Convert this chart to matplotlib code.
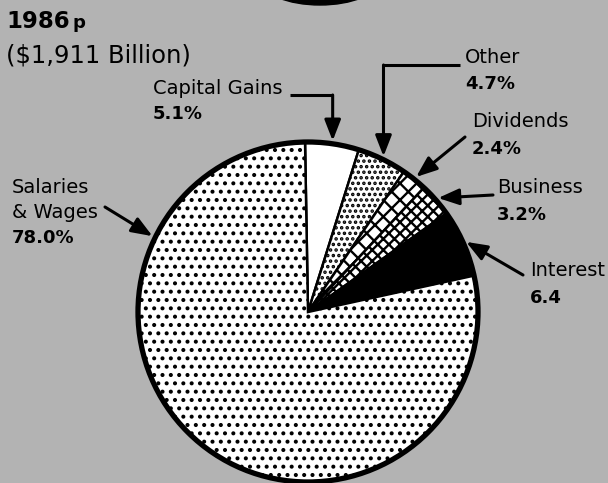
"""
1986 personal income pie chart, redrawn from the scanned figure.
Writes out.png (608x483 px).
"""
import numpy as np
import matplotlib
matplotlib.use("Agg")
import matplotlib.pyplot as plt
from matplotlib.patches import Circle, Ellipse

# ---- data ----------------------------------------------------------------
labels = ["Capital Gains", "Other", "Dividends", "Business", "Interest", "Salaries\n& Wages"]
shares = [5.1, 4.7, 2.4, 3.2, 6.4, 78.0]
share_text = ["5.1%", "4.7%", "2.4%", "3.2%", "6.4", "78.0%"]
year = "1986"
total_text = "($1,911 Billion)"

# ---- layout (pixel coords, y measured from top of the image) -------------
W, H = 608, 483
CX, CY, R = 308, 312, 170
BG = "#b3b3b3"

plt.rcParams["font.family"] = ["DejaVu Sans"]
plt.rcParams["hatch.linewidth"] = 1.7


def Y(y):
    return H - y


def main():
    fig = plt.figure(figsize=(W / 100, H / 100), dpi=100, facecolor=BG)
    ax = fig.add_axes([0, 0, 1, 1])
    ax.set_facecolor("none")

    colors = ["white", "white", "white", "white", "black", "white"]
    hatches = ["", "...", "xx", "xxx", "", ".."]
    wedges, _ = ax.pie(shares, startangle=91, counterclock=False,
                       center=(CX, Y(CY)), radius=R, colors=colors,
                       hatch=hatches,
                       wedgeprops=dict(edgecolor="black", linewidth=1.8))
    ax.add_patch(Circle((CX, Y(CY)), R, fill=False, edgecolor="black", lw=3.8))
    # black banner cut off at the top edge
    ax.add_patch(Ellipse((320, Y(-20)), 118, 50, color="black", clip_on=True))

    ax.set_xlim(0, W)
    ax.set_ylim(0, H)
    ax.set_aspect("equal")
    ax.axis("off")

    # where each arrow meets the rim
    def tip(angle):
        a = np.deg2rad(angle)
        return CX + (R + 3) * np.cos(a), Y(CY) + (R + 3) * np.sin(a)

    tips = [tip((w.theta1 + w.theta2) / 2) for w in wedges[:5]]
    tips.append(tip(154))

    arrow = dict(arrowstyle="-|>,head_length=0.9,head_width=0.35",
                 color="black", lw=2.2, shrinkA=0, shrinkB=0,
                 mutation_scale=14)

    # label text: (x, baseline of name, baseline of value)
    spots = [(153, 94, 119), (465, 63, 89), (472, 127, 154),
             (497, 193, 220), (530, 276, 303), (12, 193, 243)]
    for name, val, (x, b1, b2) in zip(labels, share_text, spots):
        lines = name.split("\n")
        for k, ln in enumerate(lines):
            ax.text(x, Y(b1 + 25 * k), ln, fontsize=14, ha="left", va="baseline")
        ax.text(x, Y(b2), val, fontsize=13, fontweight="bold", ha="left", va="baseline")

    # elbow leaders (capital gains, other)
    tx, ty = tips[0]
    ax.plot([290, tx], [Y(95), Y(95)], color="black", lw=2.2, solid_capstyle="butt")
    ax.annotate("", xy=(tx, ty), xytext=(tx, Y(95)), arrowprops=arrow)
    tx, ty = tips[1]
    ax.plot([460, tx], [Y(65), Y(65)], color="black", lw=2.2, solid_capstyle="butt")
    ax.annotate("", xy=(tx, ty), xytext=(tx, Y(65)), arrowprops=arrow)

    # straight leaders
    starts = [(465, 137), (493, 195), (523, 275), (105, 207)]
    for (sx, sy), t in zip(starts, tips[2:]):
        ax.annotate("", xy=t, xytext=(sx, Y(sy)), arrowprops=arrow)

    # heading
    ax.text(6, Y(28), year, fontsize=16.5, fontweight="bold", va="baseline")
    ax.text(72, Y(28), "p", fontsize=13, fontweight="bold", va="baseline")
    ax.text(6, Y(63), total_text, fontsize=17.5, va="baseline")

    fig.savefig("out.png", dpi=100, facecolor=BG)
    plt.close(fig)


if __name__ == "__main__":
    main()
